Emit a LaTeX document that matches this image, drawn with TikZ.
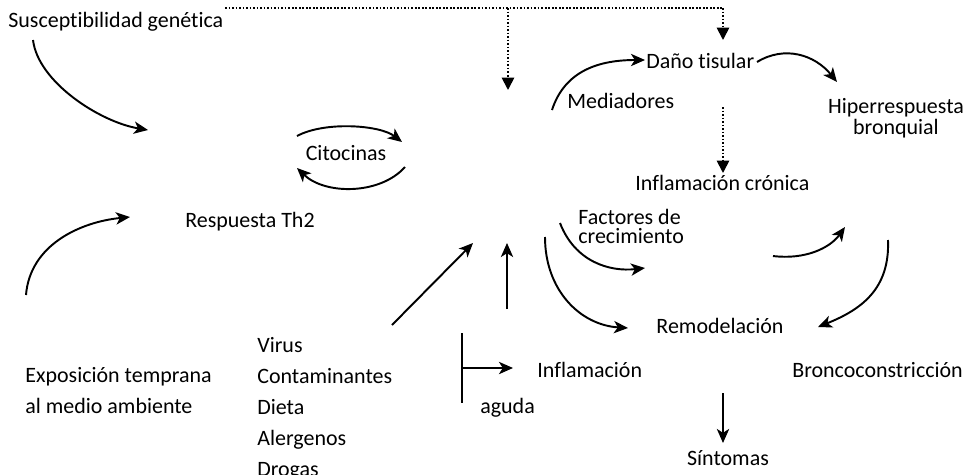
\documentclass[tikz,border=0pt]{standalone}
\usepackage{fontspec}
\setmainfont{Carlito}[Ligatures=NoCommon]
\usetikzlibrary{arrows.meta}

\begin{document}
\begin{tikzpicture}[x=0.02cm, y=-0.02cm]
 \tikzstyle{etiq}=[inner sep=0pt, text=black, font=\fontsize{12.5}{10.5}\selectfont]
 \tikzstyle{lista}=[inner sep=0pt, text=black, align=left, font=\fontsize{12.5}{17.6}\selectfont]
 \tikzstyle{flecha}=[-{Stealth[length=8pt, width=7pt, inset=2.2pt]}, line width=1.1pt]
 \tikzstyle{punteada}=[-{Triangle[length=7pt, width=7pt]}, densely dotted, line width=1pt]
 \useasboundingbox (0,0) rectangle (968,474);
 %
 \node[etiq, anchor=base west] (Sus) at (8, 27) {Susceptibilidad genética};
 \node[etiq, anchor=base] (Cit) at (346, 160) {Citocinas};
 \node[etiq, anchor=base] (Th2) at (250, 227) {Respuesta Th2};
 \node[lista, anchor=north west] (Exp) at (25, 367) {Exposición temprana\\al medio ambiente};
 \node[lista, anchor=north west] (Lis) at (257, 337) {Virus\\Contaminantes\\Dieta\\Alergenos\\Drogas};
 %
 \node[etiq, anchor=base west] (Dano) at (646, 68) {Daño tisular};
 \node[etiq, anchor=base west] (Med) at (567, 108) {Mediadores};
 \node[etiq, anchor=north, align=center] (Hip) at (896, 98) {Hiperrespuesta\\bronquial};
 \node[etiq, anchor=base west] (InfC) at (635, 190) {Inflamación crónica};
 \node[etiq, anchor=north west, align=left] (Fac) at (578, 209) {Factores de\\crecimiento};
 \node[etiq, anchor=base] (Rem) at (720, 333) {Remodelación};
 \node[etiq, anchor=base west] (Bron) at (792, 377) {Broncoconstricción};
 \node[etiq, anchor=base] (Sin) at (728, 465) {Síntomas};
 \node[etiq, anchor=base west] (InfA) at (537, 377) {Inflamación};
 \node[etiq, anchor=base west] (Agu) at (480, 413) {aguda};
 %
 \coordinate (d0) at (225, 8);
 \coordinate (d1) at (508, 8);
 \coordinate (d2) at (723, 8);
 \coordinate (d3) at (508, 90);
 \coordinate (d4) at (723, 40);
 \coordinate (d5) at (723, 107);
 \coordinate (d6) at (723, 173);
 \coordinate (s0) at (33, 40);
 \coordinate (s1) at (148, 130);
 \coordinate (e0) at (26, 295);
 \coordinate (e1) at (130, 217);
 \coordinate (c0) at (297, 136);
 \coordinate (c1) at (402, 142);
 \coordinate (c2) at (405, 167);
 \coordinate (c3) at (297, 168);
 \coordinate (m0) at (552, 110);
 \coordinate (m1) at (645, 60);
 \coordinate (h0) at (757, 62);
 \coordinate (h1) at (837, 82);
 \coordinate (f0) at (560, 223);
 \coordinate (f1) at (645, 268);
 \coordinate (r0) at (545, 237);
 \coordinate (r1) at (628, 328);
 \coordinate (b0) at (773, 256);
 \coordinate (b1) at (845, 227);
 \coordinate (b2) at (888, 240);
 \coordinate (b3) at (818, 327);
 \coordinate (v0) at (392, 325);
 \coordinate (v1) at (473, 243);
 \coordinate (a0) at (507, 309);
 \coordinate (a1) at (507, 243);
 \coordinate (t0) at (462, 333);
 \coordinate (t1) at (462, 403);
 \coordinate (t2) at (462, 368);
 \coordinate (t3) at (513, 368);
 \coordinate (y0) at (723, 393);
 \coordinate (y1) at (723, 443);
 %%
 \draw[densely dotted, line width=1pt] (d0)--(d2);
 \draw[punteada] (d1)--(d3);
 \draw[punteada] (d2)--(d4);
 \draw[punteada] (d5)--(d6);
 %
 \draw[flecha] (s0) .. controls (38, 82) and (100, 122) .. (s1);
 \draw[flecha] (e0) .. controls (30, 245) and (80, 222) .. (e1);
 \draw[flecha] (c0) .. controls (325, 121) and (380, 125) .. (c1);
 \draw[flecha] (c2) .. controls (380, 195) and (325, 195) .. (c3);
 \draw[flecha] (m0) .. controls (565, 70) and (600, 60) .. (m1);
 \draw[flecha] (h0) .. controls (785, 45) and (815, 55) .. (h1);
 \draw[flecha] (f0) .. controls (575, 262) and (610, 272) .. (f1);
 \draw[flecha] (r0) .. controls (545, 290) and (580, 325) .. (r1);
 \draw[flecha] (b0) .. controls (805, 260) and (830, 248) .. (b1);
 \draw[flecha] (b2) .. controls (890, 290) and (860, 310) .. (b3);
 %
 \draw[flecha] (v0)--(v1);
 \draw[flecha] (a0)--(a1);
 \draw[line width=1.1pt] (t0)--(t1);
 \draw[flecha] (t2)--(t3);
 \draw[flecha] (y0)--(y1);
\end{tikzpicture}
\end{document}
